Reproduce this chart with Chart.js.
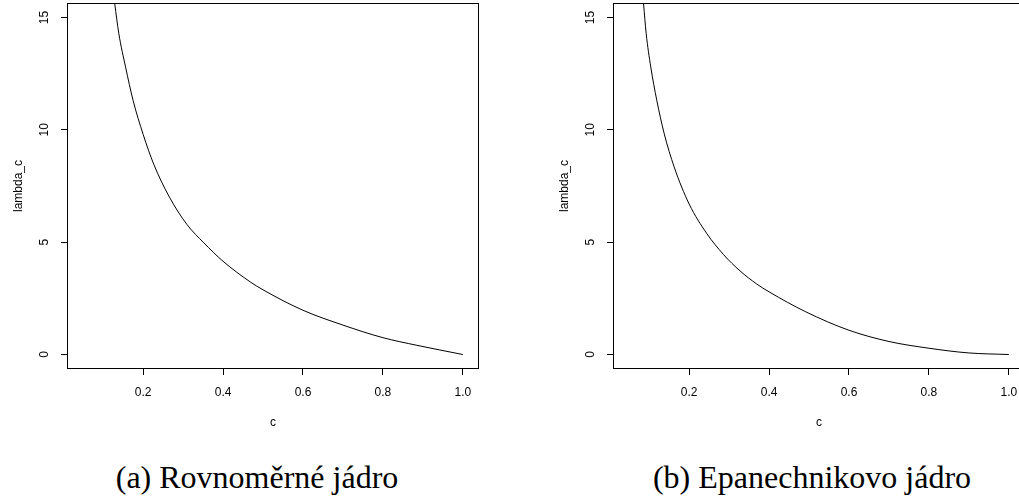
<!DOCTYPE html>
<html>
<head>
<meta charset="utf-8">
<script src="https://cdn.jsdelivr.net/npm/chart.js@4.4.1/dist/chart.umd.min.js"></script>
<style>
    body { margin: 0; width: 1019px; height: 501px; overflow: hidden; background: #fff; position: relative; }
    .panel { position: absolute; top: 0; width: 509px; height: 440px; }
    #panelA { left: 0; }
    #panelB { left: 546px; }
    .caption {
        position: absolute; top: 461px; white-space: nowrap;
        font-family: "Liberation Serif", serif; font-size: 32px; line-height: 32px;
        color: #000; transform: translateX(-50%);
    }
</style>
</head>
<body>
<div class="panel" id="panelA"><canvas id="chartA" width="509" height="440"></canvas></div>
<div class="panel" id="panelB"><canvas id="chartB" width="509" height="440"></canvas></div>
<div class="caption" style="left:257px">(a) Rovnoměrné jádro</div>
<div class="caption" style="left:812px">(b) Epanechnikovo jádro</div>
<script>
// uniform kernel
const cUniform = [0.129, 0.139, 0.156, 0.175, 0.2, 0.227, 0.266, 0.31, 0.352, 0.4, 0.469, 0.5, 0.6, 0.7, 0.8, 0.885, 1.0];
const lambdaUniform = [15.6, 14.3, 12.8, 11.3, 9.8, 8.45, 7.0, 5.78, 4.97, 4.15, 3.22, 2.88, 1.97, 1.31, 0.75, 0.41, 0.0];

// Epanechnikov kernel, right panel
const cEpan = [0.086, 0.0925, 0.104, 0.119, 0.1375, 0.1625, 0.2, 0.244, 0.286, 0.3275, 0.369, 0.4, 0.492, 0.6, 0.7, 0.8, 0.9, 1.0];
const lambdaEpan = [15.6, 14.29, 12.8, 11.32, 9.84, 8.35, 6.7, 5.39, 4.45, 3.72, 3.14, 2.79, 1.9, 1.08, 0.58, 0.28, 0.07, 0.0];

const xTicks = [0.2, 0.4, 0.6, 0.8, 1.0];
const xTickLabels = ['0.2', '0.4', '0.6', '0.8', '1.0'];
const yTicks = [0, 5, 10, 15];
const yTickLabels = ['0', '5', '10', '15'];

const xMin = 0.012, xMax = 1.038;
const yMin = -0.6, yMax = 15.6;
const sans = 'Liberation Sans';

// plot frame + rotated y labels like R's default axis style
const framePlugin = {
    id: 'frame',
    afterDraw(chart) {
        const { ctx, chartArea: a } = chart;
        const ys = chart.scales.y;
        ctx.save();
        ctx.strokeStyle = '#000';
        ctx.lineWidth = 1;
        ctx.strokeRect(a.left - 0.5, a.top - 0.5, a.right - a.left + 1, a.bottom - a.top + 1);
        ctx.fillStyle = '#000';
        ctx.font = '12px "' + sans + '"';
        ctx.textAlign = 'center';
        ctx.textBaseline = 'middle';
        ys.ticks.forEach((t, i) => {
            ctx.save();
            ctx.translate(a.left - 23, ys.getPixelForValue(t.value));
            ctx.rotate(-Math.PI / 2);
            ctx.fillText(yTickLabels[i], 0, 0);
            ctx.restore();
        });
        ctx.restore();
    }
};

function makeChart(id, xs, ys) {
    const ctx = document.getElementById(id).getContext('2d');
    return new Chart(ctx, {
        type: 'line',
        data: {
            datasets: [{
                data: xs.map((x, i) => ({ x: x, y: ys[i] })),
                borderColor: '#000',
                borderWidth: 1,
                pointRadius: 0,
                fill: false,
                cubicInterpolationMode: 'monotone',
                clip: 0,
            }],
        },
        options: {
            responsive: false,
            animation: false,
            events: [],
            layout: { padding: { top: 4, right: 31, bottom: 10, left: 0 } },
            plugins: { legend: { display: false }, tooltip: { enabled: false } },
            scales: {
                x: {
                    type: 'linear',
                    min: xMin,
                    max: xMax,
                    afterBuildTicks: s => { s.ticks = xTicks.map(v => ({ value: v })); },
                    afterFit: s => { s.height = 62; },
                    border: { display: false },
                    grid: { drawOnChartArea: false, color: '#000', tickLength: 7, tickWidth: 1 },
                    ticks: {
                        color: '#000', font: { family: sans, size: 12 }, padding: 10, maxRotation: 0,
                        callback: (v, i) => xTickLabels[i],
                    },
                    title: { display: true, text: 'c', color: '#000', font: { family: sans, size: 12 }, padding: 0 },
                },
                y: {
                    type: 'linear',
                    min: yMin,
                    max: yMax,
                    afterBuildTicks: s => { s.ticks = yTicks.map(v => ({ value: v })); },
                    afterFit: s => { s.width = 68; },
                    border: { display: false },
                    grid: { drawOnChartArea: false, color: '#000', tickLength: 7, tickWidth: 1 },
                    ticks: { display: false },
                    title: {
                        display: true, text: 'lambda_c', color: '#000',
                        font: { family: sans, size: 12 }, padding: { top: 11, bottom: 0 },
                    },
                },
            },
        },
        plugins: [framePlugin],
    });
}

makeChart('chartA', cUniform, lambdaUniform);
makeChart('chartB', cEpan, lambdaEpan);
</script>
</body>
</html>
